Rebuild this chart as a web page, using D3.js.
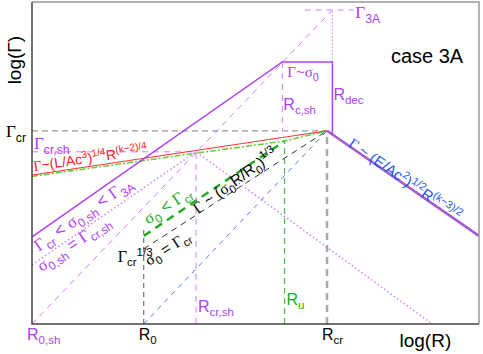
<!DOCTYPE html>
<html>
<head>
<meta charset="utf-8">
<script src="https://cdn.jsdelivr.net/npm/d3@7"></script>
<style>
  body { margin: 0; background: #fff; }
  text { font-family: "Liberation Sans", Arial, sans-serif; }
</style>
</head>
<body>
<svg id="chart" width="483" height="354"></svg>
<script>
// log(R), log(Gamma) in arbitrary units
const radiusNames = ['R_{0,sh}', 'R_{0}', 'R_{cr}'];
const radiusValues = [0, 2.5, 6.6];
const innerRadiusNames = ['R_{cr,sh}', 'R_{u}'];
const innerRadiusValues = [3.67, 5.65];
const gammaCr = 4.32;
const gammaCrSh = 3.85;
const sigma0Sh = 5.86;
const gamma3A = 7.02;

const shellCoast = [[0, 1.95], [5.6, 5.86], [6.72, 5.86], [6.72, 4.24]];
const decel = [[6.6, 4.32], [10, 1.97]];
const line3A = [[0, 0], [6.72, 7.02]];
const line3ATop = [[6.1, 7.02], [7.2, 7.02]];
const rdecDotted = [[6.72, 5.86], [6.72, 7.02]];
const rcshDashed = [[5.6, 5.86], [5.6, 4.32]];
const shellEqual = [[0, 1.32], [3.67, 3.85], [8.95, 0]];
const windRed = [[0, 3.33], [6.6, 4.32]];
const windGreen = [[0, 3.3], [3.67, 3.82], [5.65, 4.09], [6.6, 4.32]];
const lowSigma = [[2.5, 1.97], [5.65, 4.09]];
const equalSigma = [[2.5, 1.68], [6.6, 4.32]];
const blueLine = [[2.5, 0], [6.6, 4.32]];
const crGuide = [[0, 4.32], [6.6, 4.32]];
const rcrGuide = [[6.6, 0], [6.6, 4.32]];
const crShGuide = [[0, 3.85], [3.67, 3.85], [3.67, 0]];
const r0Guide = [[2.5, 0], [2.5, 2.1]];
const ruGuide = [[5.65, 0], [5.65, 4.09]];

const PURPLE = '#b040f5', LIGHT = '#cc80ff', GREEN = '#22aa22';

const svg = d3.select('#chart');
const x = d3.scaleLinear().domain([0, 10]).range([32, 479]);
const y = d3.scaleLinear().domain([0, 7.2]).range([324, 2]);
const line = d3.line().x((d) => x(d[0])).y((d) => y(d[1]));

function draw(data, color, width, dash) {
  svg.append('path')
    .attr('d', line(data))
    .attr('fill', 'none')
    .attr('stroke', color)
    .attr('stroke-width', width)
    .attr('stroke-dasharray', dash || null);
}

function angle(data) {
  const [a, b] = data;
  return Math.atan2(y(b[1]) - y(a[1]), x(b[0]) - x(a[0])) * 180 / Math.PI;
}

// tiny markup: _{sub} ^{sup}, greek letters in serif
function parse(str) {
  const parts = [];
  let i = 0, buf = '';
  while (i < str.length) {
    if ((str[i] == '_' || str[i] == '^') && str[i + 1] == '{') {
      if (buf) parts.push({ t: buf, m: null });
      buf = '';
      const end = str.indexOf('}', i);
      parts.push({ t: str.slice(i + 2, end), m: str[i] == '_' ? 'sub' : 'sup' });
      i = end + 1;
    } else {
      buf += str[i++];
    }
  }
  if (buf) parts.push({ t: buf, m: null });
  return parts;
}

function rich(str, px, py, size, color, rot) {
  const text = svg.append('text')
    .attr('transform', `translate(${px},${py}) rotate(${rot || 0})`)
    .attr('font-size', size)
    .attr('fill', color);
  let shift = 0;
  parse(str).forEach((p) => {
    const fs = p.m ? size * 0.72 : size;
    const target = p.m == 'sub' ? size * 0.28 : p.m == 'sup' ? -size * 0.4 : 0;
    let first = true;
    p.t.split(/([Γσ])/).filter((s) => s).forEach((s) => {
      const ts = text.append('tspan').attr('font-size', fs).text(s);
      if (/[Γσ]/.test(s)) ts.attr('font-family', '"Liberation Serif", serif');
      if (first) { ts.attr('dy', target - shift); first = false; }
    });
    shift = target;
  });
  return text;
}

// guides
draw(crGuide, '#999', 1.3, '6,4');
draw(rcrGuide, '#aaa', 2.5, '7,5');
draw(crShGuide, LIGHT, 1, '6,5');
draw(rcshDashed, LIGHT, 1, '6,5');
draw(rdecDotted, LIGHT, 1, '1.5,2');
draw(line3A, LIGHT, 1, '6,5');
draw(line3ATop, LIGHT, 1, '6,5');
draw(shellEqual, LIGHT, 1.5, '1.5,2.5');
draw(blueLine, '#5577ff', 1, '5,5');
draw(r0Guide, '#555', 1, '5,4');
draw(ruGuide, '#55bb55', 1.2, '6,4');
draw(equalSigma, '#333', 1, '6,5');
draw(lowSigma, GREEN, 2.5, '8,6');
draw(windGreen, '#66cc33', 1.5, '6,2,2,2');
draw(windRed, '#ff3333', 1);
draw(shellCoast, PURPLE, 1.5);
draw(decel, PURPLE, 2.5);
draw(decel, '#888', 1);

// frame
svg.append('path').attr('d', `M${x(0)},${y(7.2)}H${x(10)}V${y(0)}`)
  .attr('fill', 'none').attr('stroke', '#999').attr('stroke-width', 1.5);
svg.append('path').attr('d', `M${x(0)},${y(7.2)}V${y(0)}H${x(10)}`)
  .attr('fill', 'none').attr('stroke', '#444').attr('stroke-width', 1.5);

// axis labels
svg.append('text').attr('transform', `translate(21,${y(5.9)}) rotate(-90)`)
  .attr('text-anchor', 'middle').attr('font-size', 19).text('log(Γ)');
svg.append('text').attr('x', x(8.8)).attr('y', 347)
  .attr('text-anchor', 'middle').attr('font-size', 19).text('log(R)');
svg.append('text').attr('x', x(8.03)).attr('y', y(5.84))
  .attr('font-size', 20).text('case 3A');

// radius ticks
const rColors = [PURPLE, '#000', '#000'];
radiusNames.forEach((n, i) => rich(n, x(radiusValues[i]) - 5, 340, 16, rColors[i]));
rich(innerRadiusNames[0], x(innerRadiusValues[0]) + 2, 312, 16, PURPLE);
rich(innerRadiusNames[1], x(innerRadiusValues[1]) + 2, 305, 16, GREEN);
rich('R_{c,sh}', x(5.6) + 1, 110, 16, PURPLE);
rich('R_{dec}', x(6.72) + 1, 100, 16, PURPLE);

// gamma ticks
rich('Γ_{cr}', 6, y(gammaCr) + 6, 17, '#000');
rich('Γ_{cr,sh}', 34, y(gammaCrSh) - 3, 17, PURPLE);
rich('Γ_{3A}', x(7.3) - 3, y(gamma3A) + 8, 17, PURPLE);
rich('Γ~σ_{0}', x(5.6) + 5, y(sigma0Sh) + 15, 15, PURPLE);
rich('Γ_{cr}^{1/3}', x(2.5) - 26, 262, 16, '#000');

// curve labels
rich('Γ~(L/Ac^{3})^{1/4}R^{(k−2)/4}', x(0.05), y(3.33) - 4, 14, '#ff2020', angle(windRed));
rich('Γ_{cr} < σ_{0,sh} < Γ_{3A}', x(0.15), y(1.95) + 15, 17, PURPLE, angle(shellCoast));
rich('σ_{0,sh} = Γ_{cr,sh}', x(0.22), y(1.32) + 7, 16.5, PURPLE, angle(shellEqual));
rich('σ_{0} < Γ_{cr}', x(2.6), y(2.15) - 3, 16.5, GREEN, angle(lowSigma));
rich('σ_{0} = Γ_{cr}', x(2.62), 266, 15.5, '#000', angle(equalSigma));
rich('Γ ~ (σ_{0}R/R_{0})^{1/3}', x(3.7), 214, 15.5, '#000', angle(equalSigma) - 3);
rich('Γ ~ (E/Ac^{2})^{1/2}R^{(k−3)/2}', x(7.05), y(4.32) + 15, 15, '#2255ee', angle(decel));
</script>
</body>
</html>
